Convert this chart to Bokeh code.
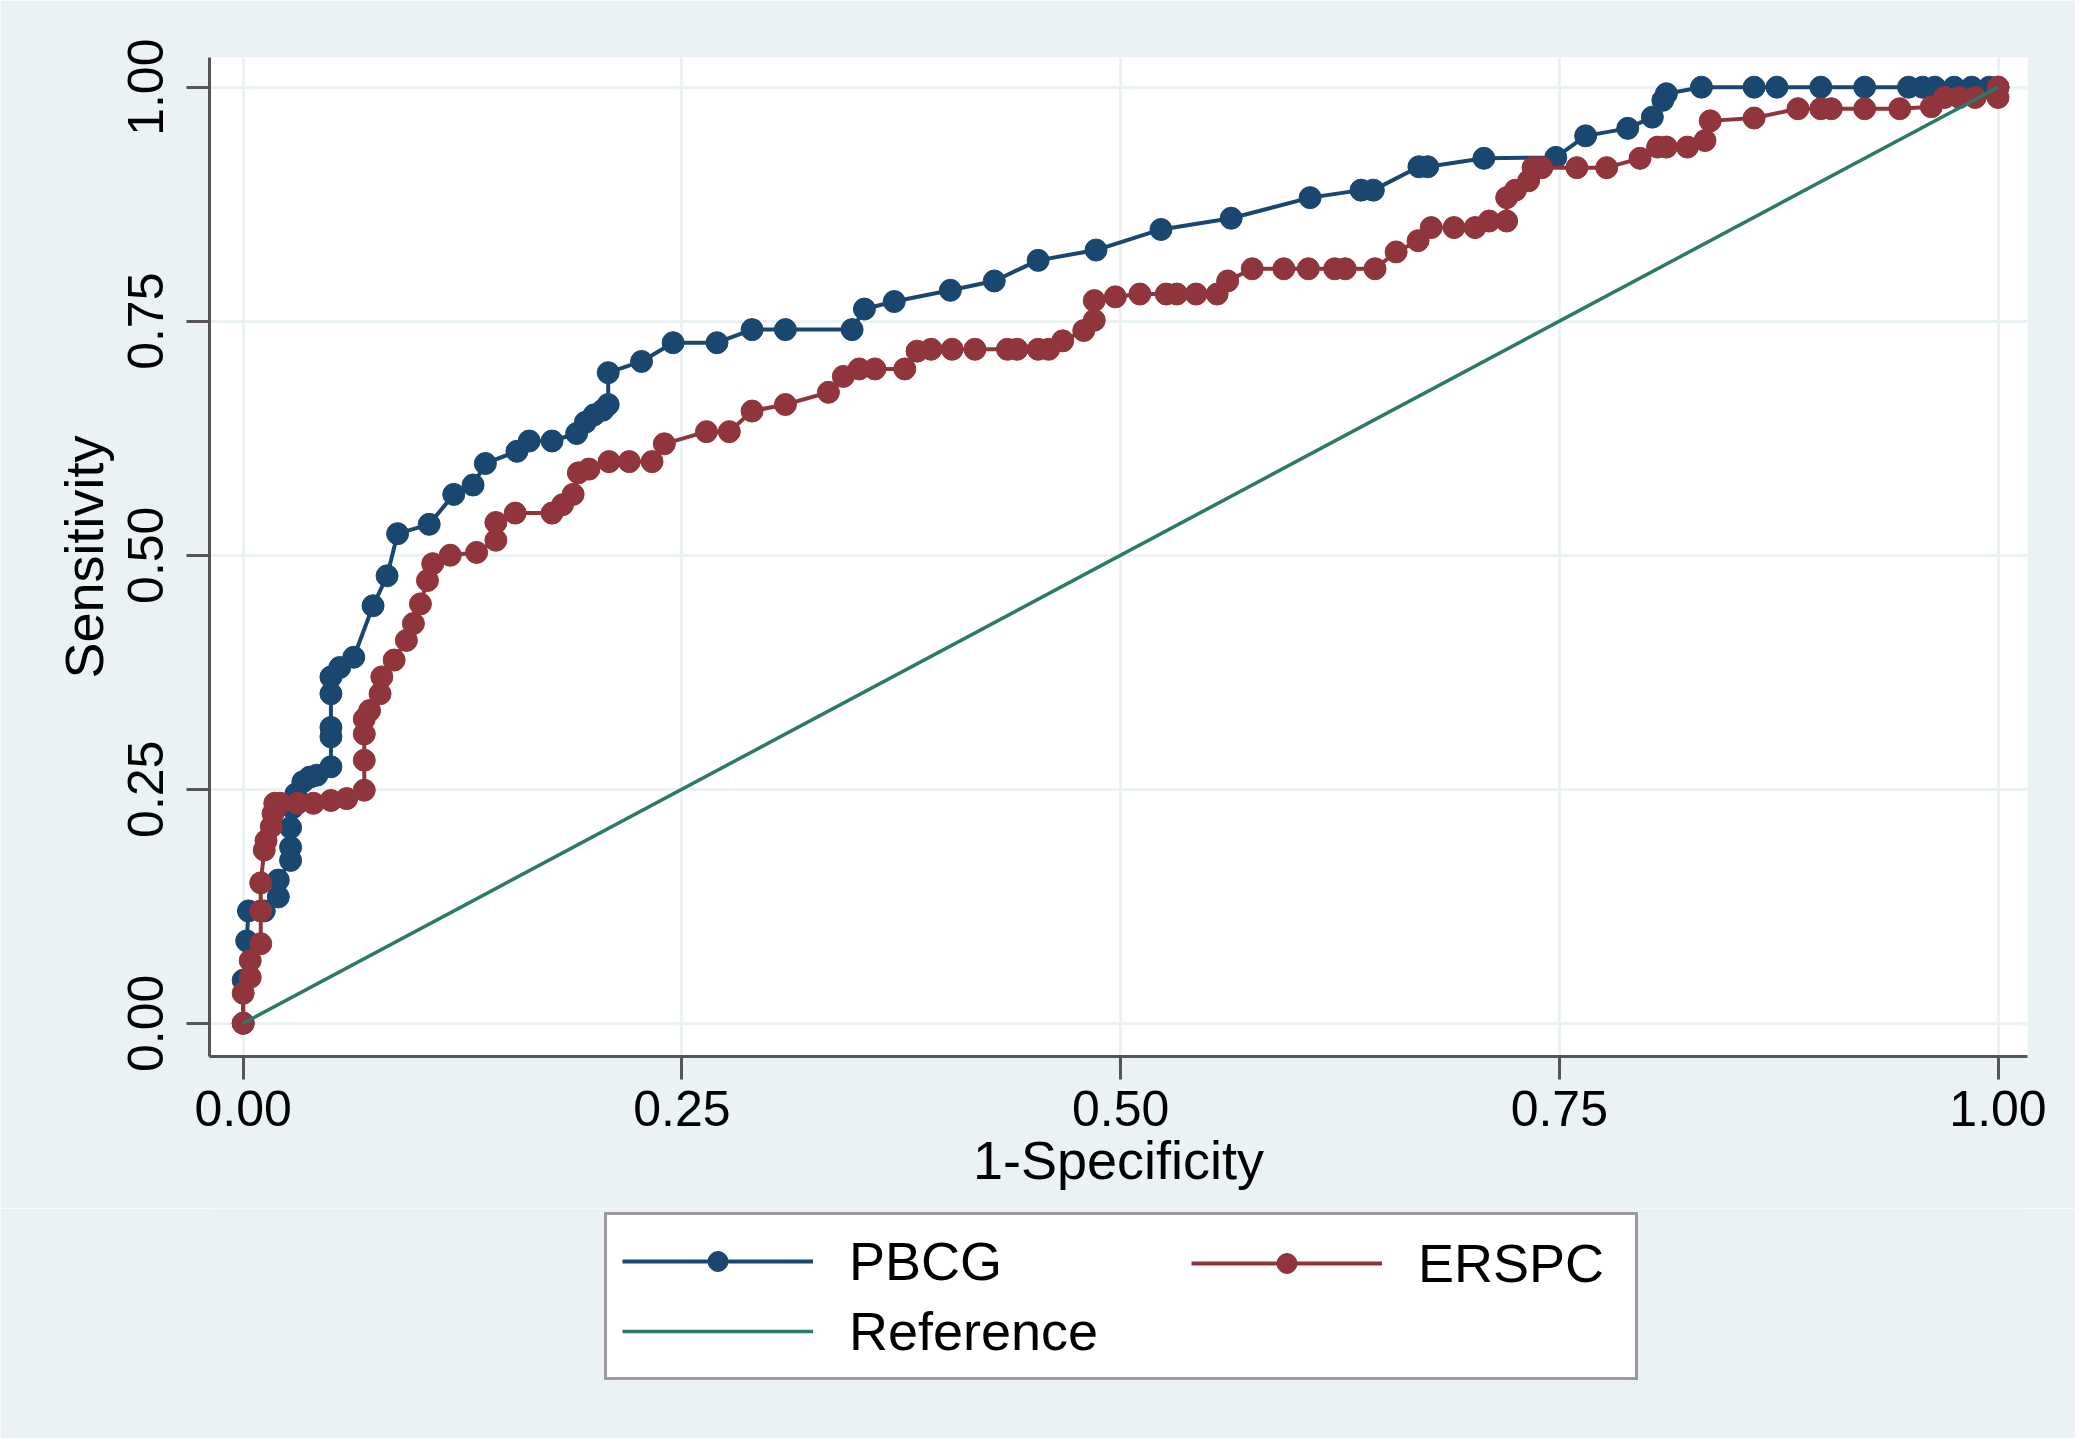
from bokeh.plotting import figure
from bokeh.layouts import column
from bokeh.models import Range1d, FixedTicker, Legend, LegendItem
from bokeh.embed import file_html
from bokeh.resources import INLINE

# ---------------- data ----------------
pbcg_fpr = [0, 0, 0.002, 0.003, 0.012, 0.020, 0.020, 0.027, 0.027, 0.027, 0.028, 0.030,
            0.034, 0.038, 0.042, 0.050, 0.050, 0.050, 0.050, 0.050, 0.055, 0.063, 0.074,
            0.082, 0.088, 0.106, 0.120, 0.131, 0.138, 0.156, 0.163, 0.176, 0.190, 0.195,
            0.200, 0.205, 0.208, 0.208, 0.227, 0.245, 0.270, 0.290, 0.309, 0.347, 0.354,
            0.371, 0.403, 0.428, 0.453, 0.486, 0.523, 0.563, 0.608, 0.637, 0.644, 0.670,
            0.675, 0.707, 0.748, 0.765, 0.789, 0.803, 0.809, 0.811, 0.831, 0.861, 0.874,
            0.899, 0.924, 0.949, 0.957, 0.964, 0.975, 0.985, 0.995, 1.0]
pbcg_tpr = [0, 0.046, 0.088, 0.120, 0.120, 0.135, 0.153, 0.174, 0.188, 0.209, 0.230, 0.245,
            0.258, 0.263, 0.265, 0.274, 0.306, 0.316, 0.352, 0.370, 0.380, 0.391, 0.446,
            0.478, 0.523, 0.533, 0.565, 0.575, 0.598, 0.611, 0.622, 0.622, 0.630, 0.642,
            0.650, 0.655, 0.661, 0.695, 0.707, 0.727, 0.727, 0.741, 0.741, 0.741, 0.763,
            0.771, 0.783, 0.793, 0.815, 0.826, 0.848, 0.860, 0.882, 0.890, 0.890, 0.915,
            0.915, 0.924, 0.925, 0.948, 0.956, 0.968, 0.986, 0.993, 1.0, 1.0, 1.0,
            1.0, 1.0, 1.0, 1.0, 1.0, 1.0, 1.0, 1.0, 1.0]

erspc_fpr = [0, 0, 0.004, 0.004, 0.010, 0.010, 0.010, 0.012, 0.013, 0.016, 0.017, 0.018,
             0.021, 0.031, 0.040, 0.050, 0.059, 0.069, 0.069, 0.069, 0.069, 0.072, 0.078,
             0.079, 0.086, 0.093, 0.097, 0.101, 0.105, 0.108, 0.118, 0.133, 0.144, 0.144,
             0.155, 0.176, 0.182, 0.188, 0.191, 0.197, 0.2085, 0.220, 0.233, 0.240, 0.264,
             0.277, 0.290, 0.309, 0.3335, 0.342, 0.351, 0.360, 0.377, 0.384, 0.392, 0.404,
             0.417, 0.4355, 0.441, 0.453, 0.459, 0.467, 0.479, 0.485, 0.485, 0.497, 0.511,
             0.526, 0.532, 0.543, 0.555, 0.561, 0.575, 0.593, 0.607, 0.622, 0.628, 0.645,
             0.657, 0.6695, 0.677, 0.690, 0.702, 0.710, 0.720, 0.720, 0.725, 0.7325, 0.735,
             0.740, 0.760, 0.777, 0.796, 0.806, 0.811, 0.823, 0.833, 0.836, 0.861, 0.886,
             0.899, 0.905, 0.924, 0.944, 0.962, 0.9695, 0.978, 0.987, 1.0, 1.0]
erspc_tpr = [0, 0.032, 0.049, 0.067, 0.085, 0.120, 0.150, 0.185, 0.195, 0.210, 0.224, 0.235,
             0.235, 0.235, 0.235, 0.238, 0.240, 0.249, 0.281, 0.309, 0.325, 0.334, 0.352,
             0.370, 0.388, 0.409, 0.427, 0.448, 0.473, 0.491, 0.500, 0.503, 0.516, 0.535,
             0.545, 0.545, 0.554, 0.565, 0.588, 0.592, 0.600, 0.600, 0.600, 0.619, 0.632,
             0.632, 0.654, 0.661, 0.674, 0.691, 0.699, 0.699, 0.699, 0.718, 0.720, 0.720,
             0.720, 0.720, 0.720, 0.720, 0.720, 0.729, 0.740, 0.751, 0.772, 0.776, 0.779,
             0.779, 0.779, 0.779, 0.779, 0.793, 0.806, 0.806, 0.806, 0.806, 0.806, 0.806,
             0.824, 0.836, 0.850, 0.850, 0.850, 0.857, 0.857, 0.882, 0.890, 0.900, 0.914,
             0.914, 0.914, 0.914, 0.924, 0.936, 0.936, 0.936, 0.943, 0.964, 0.967, 0.977,
             0.977, 0.977, 0.977, 0.977, 0.979, 0.989, 0.989, 0.989, 0.989, 1.0]

ref_x = [0, 1]
ref_y = [0, 1]

tick_values = [0, 0.25, 0.5, 0.75, 1.0]
tick_labels = ["0.00", "0.25", "0.50", "0.75", "1.00"]

series_names = ["PBCG", "ERSPC", "Reference"]

# ---------------- styling ----------------
BG = "#eaf2f3"
BLUE = "#1a476f"
RED = "#90353b"
GREEN = "#2a7a66"
AXIS = "#555555"
FONT = "Liberation Sans"

# ---------------- main plot ----------------
p = figure(frame_width=1818, frame_height=999, output_backend="svg", toolbar_location=None,
           x_range=Range1d(-0.0192, 1.0168), y_range=Range1d(-0.0355, 1.0317),
           min_border_left=209, min_border_right=48, min_border_top=57,
           min_border_bottom=152)

p.background_fill_color = "white"
p.border_fill_color = BG
p.outline_line_color = None

p.line(pbcg_fpr, pbcg_tpr, line_color=BLUE, line_width=4)
p.scatter(pbcg_fpr, pbcg_tpr, size=22, fill_color=BLUE, line_color=BLUE)
p.line(erspc_fpr, erspc_tpr, line_color=RED, line_width=4)
p.scatter(erspc_fpr, erspc_tpr, size=22, fill_color=RED, line_color=RED)
p.line(ref_x, ref_y, line_color=GREEN, line_width=3.5)

for ax in (p.xaxis[0], p.yaxis[0]):
    ax.ticker = FixedTicker(ticks=tick_values)
    ax.major_label_overrides = {v: s for v, s in zip(tick_values, tick_labels)}
    ax.minor_tick_line_color = None
    ax.major_tick_in = 0
    ax.major_tick_out = 23
    ax.major_tick_line_width = 3
    ax.major_tick_line_color = AXIS
    ax.axis_line_width = 3
    ax.axis_line_color = AXIS
    ax.major_label_text_font = FONT
    ax.major_label_text_font_size = "50px"
    ax.major_label_text_color = "black"
    ax.axis_label_text_font = FONT
    ax.axis_label_text_font_size = "54px"
    ax.axis_label_text_font_style = "normal"
    ax.axis_label_text_color = "black"

p.xaxis.axis_label = "1-Specificity"
p.yaxis.axis_label = "Sensitivity"
p.xaxis.major_label_standoff = 11
p.yaxis.major_label_standoff = 23
p.xaxis.axis_label_standoff = 1
p.yaxis.axis_label_standoff = 12
p.yaxis.major_label_orientation = "vertical"

for g in (p.xgrid[0], p.ygrid[0]):
    g.ticker = FixedTicker(ticks=tick_values)
    g.grid_line_color = BG
    g.grid_line_width = 3

# ---------------- legend strip (below the plot) ----------------
# the key renderers reuse the series but sit outside this strip's visible range,
# so only their legend keys are drawn
lf = figure(width=2075, height=230, output_backend="svg", toolbar_location=None,
            x_range=Range1d(-3, -2), y_range=Range1d(-3, -2),
            x_axis_location=None, y_axis_location=None,
            min_border_left=0, min_border_right=0, min_border_top=0, min_border_bottom=0)
lf.xgrid.visible = False
lf.ygrid.visible = False
lf.outline_line_color = None
lf.background_fill_color = BG
lf.border_fill_color = BG

k_p_line = lf.line(pbcg_fpr, pbcg_tpr, line_color=BLUE, line_width=4)
k_p_pts = lf.scatter(pbcg_fpr, pbcg_tpr, size=20, fill_color=BLUE, line_color=BLUE)
k_e_line = lf.line(erspc_fpr, erspc_tpr, line_color=RED, line_width=4)
k_e_pts = lf.scatter(erspc_fpr, erspc_tpr, size=20, fill_color=RED, line_color=RED)
k_ref = lf.line(ref_x, ref_y, line_color=GREEN, line_width=3.5)


def style_legend(lg):
    lg.label_text_font = FONT
    lg.label_text_font_size = "54px"
    lg.label_text_color = "black"
    lg.glyph_width = 191
    lg.glyph_height = 50
    lg.label_standoff = 36
    lg.spacing = 8
    lg.margin = 0


# boxed legend: left column (PBCG, Reference)
legend_a = Legend(items=[
    LegendItem(label=series_names[0], renderers=[k_p_line, k_p_pts]),
    LegendItem(label=series_names[2], renderers=[k_ref]),
], orientation="vertical", location=(395, 58))
style_legend(legend_a)
legend_a.label_width = 771
legend_a.padding = 15
legend_a.border_line_color = "#383838"
legend_a.border_line_width = 3.5
legend_a.background_fill_color = "white"
legend_a.background_fill_alpha = 1.0
lf.add_layout(legend_a, "center")

# right column (ERSPC), drawn inside the same box
legend_b = Legend(items=[
    LegendItem(label=series_names[1], renderers=[k_e_line, k_e_pts]),
], orientation="vertical", location=(982, 144))
style_legend(legend_b)
legend_b.padding = 0
legend_b.border_line_color = None
legend_b.background_fill_alpha = 0.0
lf.add_layout(legend_b, "center")

layout = column(p, lf, spacing=0)
open("out.html", "w").write(file_html(layout, INLINE))
